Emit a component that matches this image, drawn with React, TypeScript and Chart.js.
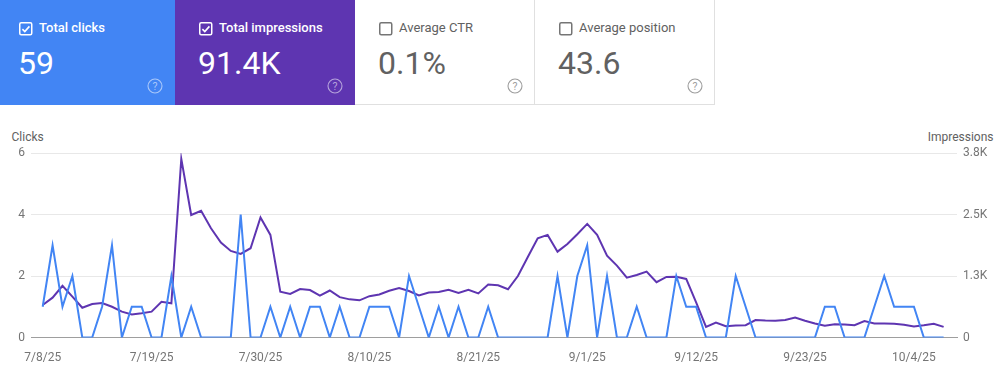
import React, { useEffect, useRef } from "react";
import { Chart, registerables } from "chart.js";

Chart.register(...registerables);

// Daily clicks (7/8/25 .. 10/7/25)
const clicks = [
  1, 3, 1, 2, 0, 0, 1, 3, 0, 1, 1, 0, 0, 2, 0, 1, 0, 0, 0, 0, 4, 0, 0,
  1, 0, 1, 0, 1, 1, 0, 1, 0, 0, 1, 1, 1, 0, 2, 1, 0, 1, 0, 1, 0, 0, 1, 0,
  0, 0, 0, 0, 0, 2, 0, 2, 3, 0, 2, 0, 0, 1, 0, 0, 0, 2, 1, 1, 0, 0, 0,
  2, 1, 0, 0, 0, 0, 0, 0, 0, 1, 1, 0, 0, 0, 1, 2, 1, 1, 1, 0, 0, 0,
];

// Daily impressions
const impressions = [
  660, 810, 1050, 830, 605, 680, 700, 625, 525, 470, 495, 525, 725, 695,
  3630, 2490, 2575, 2220, 1930, 1760, 1700, 1815, 2440,
  2085, 930, 885, 985, 965, 850, 955, 820, 775, 755, 840, 875, 950, 1005, 945, 855, 915, 925, 970, 905, 970, 895, 1075, 1060,
  980, 1250, 1635, 2015, 2085, 1745, 1900, 2100, 2310, 2085, 1665, 1460, 1215, 1270, 1340, 1125, 1230, 1235, 1190,
  715, 215, 305, 230, 245, 250, 355, 345, 340, 355, 405, 340, 285, 240, 270, 265, 250, 335, 285, 285, 280, 260, 225, 250, 280, 215,
];

const xTickIndex = [0, 11, 22, 33, 44, 55, 66, 77, 88];
const xTickLabels = ["7/8/25", "7/19/25", "7/30/25", "8/10/25", "8/21/25", "9/1/25", "9/12/25", "9/23/25", "10/4/25"];
const clickTicks = [0, 2, 4, 6];
const impressionTicks = [0, 1250, 2500, 3750];
const impressionTickLabels = ["0", "1.3K", "2.5K", "3.8K"];

const cardLabels = ["Total clicks", "Total impressions", "Average CTR", "Average position"];
const cardValues = ["59", "91.4K", "0.1%", "43.6"];
const cardChecked = [true, true, false, false];
const cardColors = ["#4285f4", "#5e35b1", "#ffffff", "#ffffff"];

const FONT = "Roboto, 'Noto Sans', sans-serif";

function CheckBox({ checked }: { checked: boolean }) {
  const c = checked ? "#ffffff" : "#757575";
  return (
    <svg width="14" height="14" viewBox="0 0 14 14" style={{ position: "absolute", left: 24, top: 21.5 }}>
      <rect x="0.75" y="0.75" width="12" height="12" rx="1.5" fill="none" stroke={c} strokeWidth="1.5" />
      {checked && <path d="M3.4 7.2 L5.8 9.5 L10.4 4.4" fill="none" stroke={c} strokeWidth="1.6" />}
    </svg>
  );
}

function HelpIcon({ light }: { light: boolean }) {
  const c = light ? "rgba(255,255,255,0.55)" : "#9e9e9e";
  return (
    <svg width="16" height="16" viewBox="0 0 16 16" style={{ position: "absolute", left: 151.5, top: 77.5 }}>
      <circle cx="8" cy="8" r="7" fill="none" stroke={c} strokeWidth="1.1" />
      <text x="8" y="11.6" textAnchor="middle" fontSize="10.5" fontFamily={FONT} fill={c}>?</text>
    </svg>
  );
}

function Card({ i }: { i: number }) {
  const colored = i < 2;
  const text = colored ? "#ffffff" : "#616161";
  return (
    <div
      style={{
        position: "absolute",
        left: -5 + 180 * i,
        top: 0,
        width: 180,
        height: 105,
        boxSizing: "border-box",
        background: cardColors[i],
        borderRight: colored ? "none" : "1px solid #e0e0e0",
        borderBottom: colored ? "none" : "1px solid #e0e0e0",
        fontFamily: FONT,
      }}
    >
      <CheckBox checked={cardChecked[i]} />
      <div
        style={{
          position: "absolute",
          left: 44,
          top: 20.5,
          fontSize: 13,
          lineHeight: "13px",
          fontWeight: colored ? 500 : 400,
          color: text,
          whiteSpace: "nowrap",
        }}
      >
        {cardLabels[i]}
      </div>
      <div
        style={{
          position: "absolute",
          left: 23,
          top: 47,
          fontSize: 32,
          lineHeight: "32px",
          fontWeight: 400,
          color: text,
          whiteSpace: "nowrap",
        }}
      >
        {cardValues[i]}
      </div>
      <HelpIcon light={colored} />
    </div>
  );
}

export default function App() {
  const canvasRef = useRef<HTMLCanvasElement | null>(null);

  useEffect(() => {
    if (!canvasRef.current) return;
    const chart = new Chart(canvasRef.current, {
      type: "line",
      data: {
        datasets: [
          {
            label: "Clicks",
            data: clicks.map((v, i) => ({ x: i, y: v })),
            yAxisID: "y",
            borderColor: "#4285f4",
            borderWidth: 2,
            pointRadius: 0,
            tension: 0,
            fill: false,
          },
          {
            label: "Impressions",
            data: impressions.map((v, i) => ({ x: i, y: v })),
            yAxisID: "y1",
            borderColor: "#5e35b1",
            borderWidth: 2,
            pointRadius: 0,
            tension: 0,
            fill: false,
          },
        ],
      },
      options: {
        animation: false,
        responsive: false,
        maintainAspectRatio: false,
        devicePixelRatio: 1,
        layout: { padding: { top: 43, left: 0, right: 0, bottom: 0 } },
        plugins: { legend: { display: false }, tooltip: { enabled: false }, title: { display: false } },
        scales: {
          x: {
            type: "linear",
            min: -1.18,
            max: 92.35,
            grid: { display: false, drawTicks: false },
            border: { display: true, color: "#9e9e9e", width: 1 },
            afterBuildTicks: (scale: any) => {
              scale.ticks = xTickIndex.map((v) => ({ value: v }));
            },
            afterFit: (scale: any) => {
              scale.height = 47.5;
            },
            ticks: {
              autoSkip: false,
              maxRotation: 0,
              padding: 13.5,
              color: "#757575",
              font: { family: FONT, size: 12 },
              callback: (value: any) => {
                const k = xTickIndex.indexOf(Number(value));
                return k >= 0 ? xTickLabels[k] : "";
              },
            },
          },
          y: {
            type: "linear",
            position: "left",
            min: 0,
            max: 6,
            grid: { color: "#e8e8e8", drawTicks: false, lineWidth: 1 },
            border: { display: false },
            afterBuildTicks: (scale: any) => {
              scale.ticks = clickTicks.map((v) => ({ value: v }));
            },
            afterFit: (scale: any) => {
              scale.width = 31;
            },
            ticks: {
              padding: 6,
              color: "#757575",
              font: { family: FONT, size: 12 },
            },
          },
          y1: {
            type: "linear",
            position: "right",
            min: 0,
            max: 3750,
            grid: { display: false, drawTicks: false },
            border: { display: false },
            afterBuildTicks: (scale: any) => {
              scale.ticks = impressionTicks.map((v) => ({ value: v }));
            },
            afterFit: (scale: any) => {
              scale.width = 47;
            },
            ticks: {
              padding: 6,
              color: "#757575",
              font: { family: FONT, size: 12 },
              callback: (value: any) => {
                const k = impressionTicks.indexOf(Number(value));
                return k >= 0 ? impressionTickLabels[k] : "";
              },
            },
          },
        },
      },
    } as any);
    return () => chart.destroy();
  }, []);

  return (
    <div style={{ position: "absolute", left: 0, top: 0, width: 1004, height: 385, background: "#ffffff", overflow: "hidden", fontFamily: FONT }}>
      {[0, 1, 2, 3].map((i) => (
        <Card key={i} i={i} />
      ))}
      <div style={{ position: "absolute", left: 11.5, top: 129.5, fontSize: 12, lineHeight: "14px", color: "#616161" }}>Clicks</div>
      <div style={{ position: "absolute", right: 10.5, top: 129.5, fontSize: 12, lineHeight: "14px", color: "#616161" }}>Impressions</div>
      <canvas ref={canvasRef} width={1004} height={275} style={{ position: "absolute", left: 0, top: 110, width: 1004, height: 275 }} />
    </div>
  );
}
